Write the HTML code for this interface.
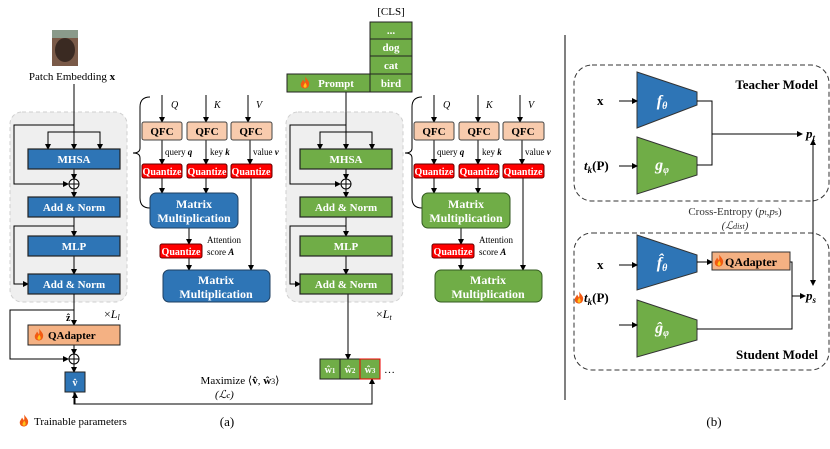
<!DOCTYPE html>
<html><head><meta charset="utf-8"><style>
body{margin:0;background:#fff}
svg text{font-family:"Liberation Serif",serif}
.b{font-weight:bold}
</style></head><body>
<svg width="830" height="444" viewBox="0 0 830 444" xmlns="http://www.w3.org/2000/svg">
<defs>
<marker id="a" markerWidth="6" markerHeight="6" refX="5" refY="3" orient="auto" markerUnits="userSpaceOnUse"><path d="M0,0 L6,3 L0,6z" fill="#000"/></marker>
<marker id="as" markerWidth="6" markerHeight="6" refX="1" refY="3" orient="auto" markerUnits="userSpaceOnUse"><path d="M6,0 L0,3 L6,6z" fill="#000"/></marker>
<symbol id="fire" viewBox="0 0 10 12"><path d="M5,0 C7,3 10,5 9,8.5 C8.5,11 6.5,12 5,12 C3,12 1,11 0.8,8.5 C0.5,6 2.5,5 3,3 C4,4.5 4.5,5 5,6 C5.5,4 5.5,2 5,0z" fill="#f25a12"/><path d="M5,6 C6.5,7.5 7,9 6.5,10.5 C6,11.5 4,11.5 3.6,10.3 C3.2,9 4.5,8 5,6z" fill="#ffc21a"/></symbol>
<g id="enc">
<rect x="10" y="112" width="117" height="190" rx="12" fill="#efefef" stroke="#c8c8c8" stroke-dasharray="4,3"/>
</g>
</defs>

<!-- LEFT ENCODER -->
<rect x="10" y="112" width="117" height="190" rx="12" fill="#efefef" stroke="#cfcfcf" stroke-dasharray="4,3"/>
<rect x="286" y="112" width="117" height="190" rx="12" fill="#efefef" stroke="#cfcfcf" stroke-dasharray="4,3"/>

<rect x="52" y="30" width="26" height="36" fill="#7a5a48"/>
<ellipse cx="65" cy="50" rx="10" ry="12" fill="#3a2a22"/>
<rect x="52" y="30" width="26" height="8" fill="#8a9a8a"/>
<text x="72" y="80" font-size="11" text-anchor="middle">Patch Embedding <tspan class="b">x</tspan></text>

<g id="encL" stroke="#000" fill="none" stroke-width="1">
<line x1="74" y1="84" x2="74" y2="149" marker-end="url(#a)"/>
<polyline points="48,149 48,132 100,132 100,149" />
<line x1="48" y1="140" x2="48" y2="149" marker-end="url(#a)"/>
<line x1="100" y1="140" x2="100" y2="149" marker-end="url(#a)"/>
<polyline points="74,125 14,125 14,184 68,184" marker-end="url(#a)"/>
<line x1="74" y1="169" x2="74" y2="179" marker-end="url(#a)"/>
<circle cx="74" cy="184" r="5" fill="#fff"/>
<line x1="69" y1="184" x2="79" y2="184"/><line x1="74" y1="179" x2="74" y2="189"/>
<line x1="74" y1="189" x2="74" y2="197" marker-end="url(#a)"/>
<line x1="74" y1="217" x2="74" y2="236" marker-end="url(#a)"/>
<polyline points="74,226 14,226 14,284 28,284" marker-end="url(#a)"/>
<line x1="74" y1="256" x2="74" y2="274" marker-end="url(#a)"/>
</g>
<g id="encR" stroke="#000" fill="none" stroke-width="1">
<line x1="346" y1="92" x2="346" y2="149" marker-end="url(#a)"/>
<polyline points="320,149 320,132 372,132 372,149" />
<line x1="320" y1="140" x2="320" y2="149" marker-end="url(#a)"/>
<line x1="372" y1="140" x2="372" y2="149" marker-end="url(#a)"/>
<polyline points="346,125 290,125 290,184 340,184" marker-end="url(#a)"/>
<line x1="346" y1="169" x2="346" y2="179" marker-end="url(#a)"/>
<circle cx="346" cy="184" r="5" fill="#fff"/>
<line x1="341" y1="184" x2="351" y2="184"/><line x1="346" y1="179" x2="346" y2="189"/>
<line x1="346" y1="189" x2="346" y2="197" marker-end="url(#a)"/>
<line x1="346" y1="217" x2="346" y2="236" marker-end="url(#a)"/>
<polyline points="346,226 290,226 290,284 300,284" marker-end="url(#a)"/>
<line x1="346" y1="256" x2="346" y2="274" marker-end="url(#a)"/>
<line x1="348" y1="294" x2="348" y2="359" marker-end="url(#a)"/>
</g>

<g stroke="#222" stroke-width="1.2">
<rect x="28" y="149" width="92" height="20" fill="#2e75b6"/>
<rect x="28" y="197" width="92" height="20" fill="#2e75b6"/>
<rect x="28" y="236" width="92" height="20" fill="#2e75b6"/>
<rect x="28" y="274" width="92" height="20" fill="#2e75b6"/>
<rect x="300" y="149" width="92" height="20" fill="#70ad47"/>
<rect x="300" y="197" width="92" height="20" fill="#70ad47"/>
<rect x="300" y="236" width="92" height="20" fill="#70ad47"/>
<rect x="300" y="274" width="92" height="20" fill="#70ad47"/>
</g>
<g fill="#fff" font-size="11" class="b" text-anchor="middle" font-weight="bold">
<text x="74" y="163">MHSA</text><text x="74" y="211">Add &amp; Norm</text><text x="74" y="250">MLP</text><text x="74" y="288">Add &amp; Norm</text>
<text x="346" y="163">MHSA</text><text x="346" y="211">Add &amp; Norm</text><text x="346" y="250">MLP</text><text x="346" y="288">Add &amp; Norm</text>
</g>
<text x="104" y="318" font-size="12">×<tspan font-style="italic">L</tspan><tspan font-size="8" font-style="italic" dy="2">l</tspan></text>
<text x="376" y="318" font-size="12">×<tspan font-style="italic">L</tspan><tspan font-size="8" font-style="italic" dy="2">t</tspan></text>

<!-- QAdapter path -->
<g stroke="#000" fill="none">
<line x1="74" y1="294" x2="74" y2="325" marker-end="url(#a)"/>
<polyline points="74,310 10,310 10,359 68,359" marker-end="url(#a)"/>
<line x1="74" y1="345" x2="74" y2="354" marker-end="url(#a)"/>
<circle cx="74" cy="359" r="5" fill="#fff"/>
<line x1="69" y1="359" x2="79" y2="359"/><line x1="74" y1="354" x2="74" y2="364"/>
<line x1="74" y1="364" x2="74" y2="372" marker-end="url(#a)"/>
<polyline points="74,392 74,404 372,404 372,379" marker-end="url(#a)"/>
<polyline points="75,404 75,393" marker-end="url(#a)"/>
</g>
<text x="66" y="321" font-size="10" class="b" font-weight="bold">ẑ</text>
<rect x="28" y="325" width="92" height="20" fill="#f4b183" stroke="#222"/>
<use href="#fire" x="34" y="328" width="10" height="13"/>
<text x="48" y="339" font-size="11" font-weight="bold">QAdapter</text>
<rect x="65" y="372" width="20" height="20" fill="#2e75b6" stroke="#222"/>
<text x="75" y="386" font-size="10" fill="#fff" text-anchor="middle" font-weight="bold">v̂</text>
<text x="240" y="384" font-size="11" text-anchor="middle">Maximize ⟨<tspan font-weight="bold">v̂</tspan>, <tspan font-weight="bold">ŵ</tspan><tspan font-size="8">3</tspan>⟩</text>
<text x="215" y="398" font-size="11" font-style="italic">(ℒ<tspan font-size="8">c</tspan>)</text>
<use href="#fire" x="19" y="414" width="10" height="13"/>
<text x="34" y="425" font-size="11">Trainable parameters</text>
<text x="227" y="426" font-size="13" text-anchor="middle">(a)</text>

<!-- w tokens -->
<rect x="320" y="359" width="20" height="20" fill="#70ad47" stroke="#222"/>
<rect x="340" y="359" width="20" height="20" fill="#70ad47" stroke="#222"/>
<rect x="360" y="359" width="20" height="20" fill="#70ad47" stroke="#e00"/>
<g fill="#fff" font-size="10" font-weight="bold" text-anchor="middle">
<text x="330" y="373">ŵ<tspan font-size="7">1</tspan></text><text x="350" y="373">ŵ<tspan font-size="7">2</tspan></text><text x="370" y="373">ŵ<tspan font-size="7">3</tspan></text></g>
<text x="384" y="373" font-size="11">…</text>

<!-- Prompt & CLS -->
<text x="391" y="15" font-size="11" text-anchor="middle">[CLS]</text>
<g stroke="#222" fill="#70ad47">
<rect x="287" y="74" width="83" height="18"/>
<rect x="370" y="22" width="42" height="17"/><rect x="370" y="39" width="42" height="17"/>
<rect x="370" y="56" width="42" height="18"/><rect x="370" y="74" width="42" height="18"/>
</g>
<use href="#fire" x="300" y="76" width="10" height="13"/>
<g fill="#fff" font-size="11" font-weight="bold" text-anchor="middle">
<text x="336" y="87">Prompt</text><text x="391" y="34">...</text><text x="391" y="51">dog</text><text x="391" y="69">cat</text><text x="391" y="87">bird</text></g>

<!-- Attention blocks -->
<g id="att">
<path d="M150,97 Q140,97 140,107 L140,148 Q140,153 133,153 Q140,153 140,158 L140,198 Q140,208 150,208" fill="none" stroke="#000"/>
<g stroke="#000" fill="none">
<line x1="162" y1="95" x2="162" y2="122" marker-end="url(#a)"/>
<line x1="206" y1="95" x2="206" y2="122" marker-end="url(#a)"/>
<line x1="248" y1="95" x2="248" y2="122" marker-end="url(#a)"/>
<line x1="162" y1="140" x2="162" y2="164" marker-end="url(#a)"/>
<line x1="206" y1="140" x2="206" y2="164" marker-end="url(#a)"/>
<line x1="250" y1="140" x2="250" y2="164" marker-end="url(#a)"/>
<line x1="162" y1="178" x2="162" y2="193" marker-end="url(#a)"/>
<line x1="206" y1="178" x2="206" y2="193" marker-end="url(#a)"/>
<line x1="251" y1="178" x2="251" y2="270" marker-end="url(#a)"/>
<line x1="189" y1="228" x2="189" y2="244" marker-end="url(#a)"/>
<line x1="189" y1="258" x2="189" y2="270" marker-end="url(#a)"/>
</g>
<g font-size="10" font-style="italic"><text x="171" y="108">Q</text><text x="214" y="108">K</text><text x="256" y="108">V</text></g>
<g fill="#f8cbad" stroke="#444"><rect x="142" y="122" width="40" height="18" rx="2"/><rect x="187" y="122" width="40" height="18" rx="2"/><rect x="231" y="122" width="41" height="18" rx="2"/></g>
<g font-size="11" font-weight="bold" text-anchor="middle"><text x="162" y="135">QFC</text><text x="207" y="135">QFC</text><text x="251" y="135">QFC</text></g>
<g font-size="9"><text x="165" y="155">query <tspan font-weight="bold" font-style="italic">q</tspan></text><text x="210" y="155">key <tspan font-weight="bold" font-style="italic">k</tspan></text><text x="253" y="155">value <tspan font-weight="bold" font-style="italic">v</tspan></text></g>
<g fill="#f00" stroke="#600"><rect x="142" y="164" width="40" height="14" rx="2"/><rect x="187" y="164" width="40" height="14" rx="2"/><rect x="231" y="164" width="41" height="14" rx="2"/><rect x="160" y="244" width="42" height="14" rx="2"/></g>
<g fill="#fff" font-size="10" font-weight="bold" text-anchor="middle"><text x="162" y="175">Quantize</text><text x="207" y="175">Quantize</text><text x="251" y="175">Quantize</text><text x="181" y="255">Quantize</text></g>
<g fill="#2e75b6" stroke="#1f3f60"><rect x="150" y="193" width="88" height="35" rx="6"/><rect x="163" y="270" width="107" height="32" rx="6"/></g>
<g fill="#fff" font-size="12" font-weight="bold" text-anchor="middle"><text x="194" y="208">Matrix</text><text x="194" y="222">Multiplication</text><text x="216" y="284">Matrix</text><text x="216" y="298">Multiplication</text></g>
<g font-size="9"><text x="207" y="243">Attention</text><text x="207" y="255">score <tspan font-weight="bold" font-style="italic">A</tspan></text></g>
</g>
<g transform="translate(272,0)">
<path d="M150,97 Q140,97 140,107 L140,148 Q140,153 133,153 Q140,153 140,158 L140,198 Q140,208 150,208" fill="none" stroke="#000"/>
<g stroke="#000" fill="none">
<line x1="162" y1="95" x2="162" y2="122" marker-end="url(#a)"/>
<line x1="206" y1="95" x2="206" y2="122" marker-end="url(#a)"/>
<line x1="248" y1="95" x2="248" y2="122" marker-end="url(#a)"/>
<line x1="162" y1="140" x2="162" y2="164" marker-end="url(#a)"/>
<line x1="206" y1="140" x2="206" y2="164" marker-end="url(#a)"/>
<line x1="250" y1="140" x2="250" y2="164" marker-end="url(#a)"/>
<line x1="162" y1="178" x2="162" y2="193" marker-end="url(#a)"/>
<line x1="206" y1="178" x2="206" y2="193" marker-end="url(#a)"/>
<line x1="251" y1="178" x2="251" y2="270" marker-end="url(#a)"/>
<line x1="189" y1="228" x2="189" y2="244" marker-end="url(#a)"/>
<line x1="189" y1="258" x2="189" y2="270" marker-end="url(#a)"/>
</g>
<g font-size="10" font-style="italic"><text x="171" y="108">Q</text><text x="214" y="108">K</text><text x="256" y="108">V</text></g>
<g fill="#f8cbad" stroke="#444"><rect x="142" y="122" width="40" height="18" rx="2"/><rect x="187" y="122" width="40" height="18" rx="2"/><rect x="231" y="122" width="41" height="18" rx="2"/></g>
<g font-size="11" font-weight="bold" text-anchor="middle"><text x="162" y="135">QFC</text><text x="207" y="135">QFC</text><text x="251" y="135">QFC</text></g>
<g font-size="9"><text x="165" y="155">query <tspan font-weight="bold" font-style="italic">q</tspan></text><text x="210" y="155">key <tspan font-weight="bold" font-style="italic">k</tspan></text><text x="253" y="155">value <tspan font-weight="bold" font-style="italic">v</tspan></text></g>
<g fill="#f00" stroke="#600"><rect x="142" y="164" width="40" height="14" rx="2"/><rect x="187" y="164" width="40" height="14" rx="2"/><rect x="231" y="164" width="41" height="14" rx="2"/><rect x="160" y="244" width="42" height="14" rx="2"/></g>
<g fill="#fff" font-size="10" font-weight="bold" text-anchor="middle"><text x="162" y="175">Quantize</text><text x="207" y="175">Quantize</text><text x="251" y="175">Quantize</text><text x="181" y="255">Quantize</text></g>
<g fill="#70ad47" stroke="#335a20"><rect x="150" y="193" width="88" height="35" rx="6"/><rect x="163" y="270" width="107" height="32" rx="6"/></g>
<g fill="#fff" font-size="12" font-weight="bold" text-anchor="middle"><text x="194" y="208">Matrix</text><text x="194" y="222">Multiplication</text><text x="216" y="284">Matrix</text><text x="216" y="298">Multiplication</text></g>
<g font-size="9"><text x="207" y="243">Attention</text><text x="207" y="255">score <tspan font-weight="bold" font-style="italic">A</tspan></text></g>
</g>

<!-- divider -->
<line x1="565" y1="35" x2="565" y2="400" stroke="#000"/>
<text x="714" y="426" font-size="13" text-anchor="middle">(b)</text>

<!-- Panel b -->
<rect x="574" y="65" width="255" height="136" rx="18" fill="none" stroke="#333" stroke-dasharray="5,3"/>
<rect x="574" y="233" width="255" height="137" rx="18" fill="none" stroke="#333" stroke-dasharray="5,3"/>
<text x="818" y="89" font-size="13" font-weight="bold" text-anchor="end">Teacher Model</text>
<text x="818" y="359" font-size="13" font-weight="bold" text-anchor="end">Student Model</text>
<g stroke="#333">
<polygon points="637,72 697,92 697,105 637,128" fill="#2e75b6"/>
<polygon points="637,137 697,157 697,175 637,194" fill="#70ad47"/>
<polygon points="637,235 697,255 697,272 637,290" fill="#2e75b6"/>
<polygon points="637,300 697,320 697,340 637,357" fill="#70ad47"/>
</g>
<g fill="#fff" font-size="16" font-style="italic" font-weight="bold" text-anchor="middle">
<text x="662" y="106">f<tspan font-size="10" dy="3">θ</tspan></text>
<text x="662" y="170">g<tspan font-size="10" dy="3">φ</tspan></text>
<text x="662" y="268">f̂<tspan font-size="10" dy="3">θ</tspan></text>
<text x="662" y="333">ĝ<tspan font-size="10" dy="3">φ</tspan></text>
</g>
<g stroke="#000" fill="none">
<line x1="619" y1="101" x2="637" y2="101" marker-end="url(#a)"/>
<line x1="619" y1="166" x2="637" y2="166" marker-end="url(#a)"/>
<line x1="619" y1="265" x2="637" y2="265" marker-end="url(#a)"/>
<line x1="619" y1="325" x2="637" y2="325" marker-end="url(#a)"/>
<polyline points="697,101 712,101 712,165 697,165"/>
<line x1="712" y1="134" x2="802" y2="134" marker-end="url(#a)"/>
<line x1="697" y1="262" x2="712" y2="262" marker-end="url(#a)"/>
<polyline points="790,262 792,262 792,329 697,329"/>
<line x1="792" y1="296" x2="805" y2="296" marker-end="url(#a)"/>
<line x1="813" y1="140" x2="813" y2="285" marker-end="url(#a)" marker-start="url(#as)"/>
</g>
<g font-size="13" font-weight="bold">
<text x="597" y="105">x</text><text x="597" y="269">x</text>
<text x="584" y="170" font-style="italic">t<tspan font-size="9" dy="3">k</tspan><tspan font-style="normal" dy="-3">(P)</tspan></text>
<text x="584" y="302" font-style="italic">t<tspan font-size="9" dy="3">k</tspan><tspan font-style="normal" dy="-3">(P)</tspan></text>
<text x="806" y="138" font-style="italic">p<tspan font-size="9" dy="3">t</tspan></text>
<text x="806" y="300" font-style="italic">p<tspan font-size="9" dy="3">s</tspan></text>
</g>
<use href="#fire" x="574" y="291" width="10" height="13"/>
<rect x="712" y="252" width="78" height="18" fill="#f4b183" stroke="#333"/>
<use href="#fire" x="714" y="254" width="10" height="13"/>
<text x="725" y="266" font-size="12" font-weight="bold">QAdapter</text>
<text x="735" y="215" font-size="11" text-anchor="middle" fill="#333">Cross-Entropy (<tspan font-style="italic">p</tspan><tspan font-size="8">t</tspan>,<tspan font-style="italic">p</tspan><tspan font-size="8">s</tspan>)</text>
<text x="735" y="229" font-size="11" text-anchor="middle" fill="#333" font-style="italic">(ℒ<tspan font-size="8">dist</tspan>)</text>
</svg>
</body></html>
